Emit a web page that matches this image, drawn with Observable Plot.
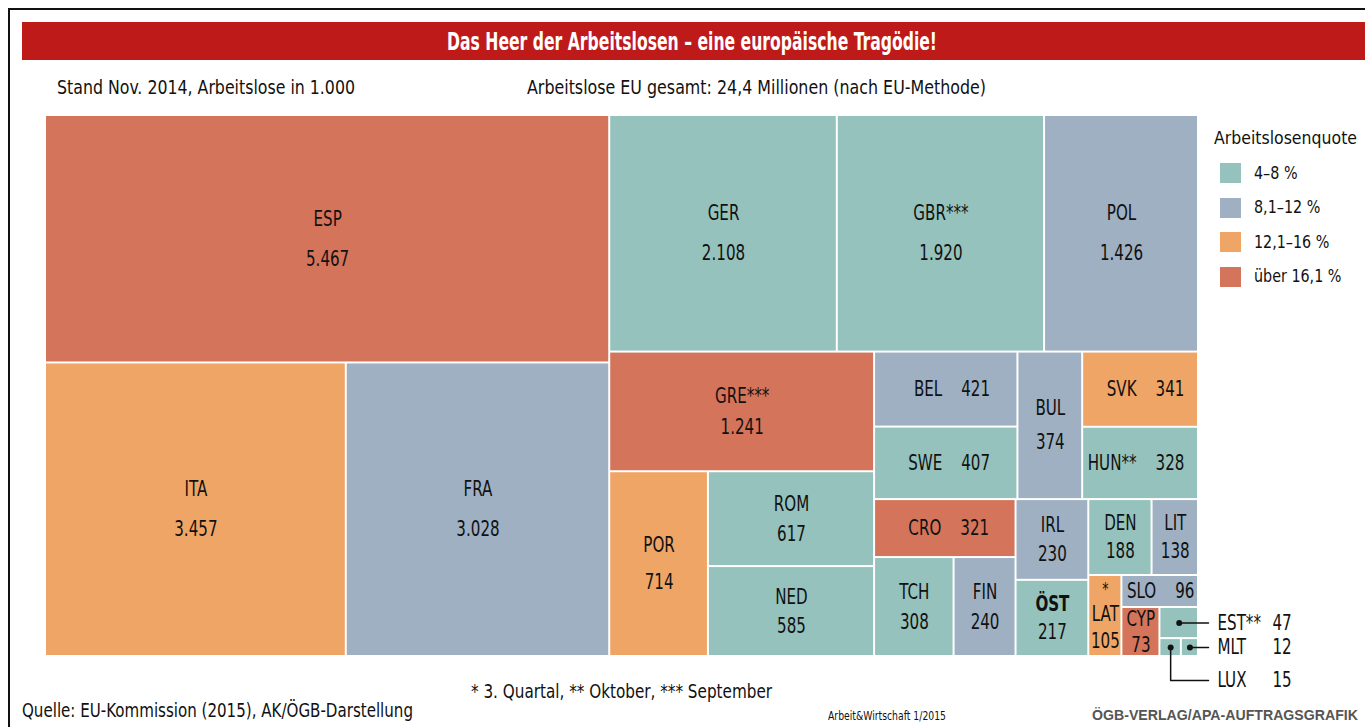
<!DOCTYPE html>
<html><head><meta charset="utf-8">
<script src="https://cdn.jsdelivr.net/npm/d3@7"></script>
<script src="https://cdn.jsdelivr.net/npm/@observablehq/plot@0.6"></script>
<style>
body{margin:0;background:#fff;}
#wrap{position:relative;width:1365px;height:727px;overflow:hidden;background:#fff;
  font-family:"Liberation Sans Narrow","DejaVu Sans Condensed","Roboto Condensed","Arial Narrow",sans-serif;font-stretch:condensed;color:#111;}
#frame{position:absolute;left:8px;top:8px;width:1400px;height:800px;border-top:2px solid #111;border-left:2px solid #111;}
#title{position:absolute;left:22px;top:22px;width:1343px;height:38px;background:#be1a1a;}
.t{position:absolute;white-space:nowrap;}
#chart{position:absolute;left:0;top:0;}
.sw{position:absolute;width:21px;height:20px;}
</style></head>
<body>
<div id="wrap"><div id="frame"></div><div id="title"></div><div id="chart"></div></div>
<script>
// ---- data ----
const countries = ["ESP","ITA","FRA","GER","GBR","POL","GRE","POR","ROM","NED","BEL","SWE","BUL","SVK","HUN","CRO","TCH","FIN","IRL","ÖST","DEN","LIT","LAT","SLO","CYP","EST","LUX","MLT"];
const footnotes = ["","","","","***","","***","","","","","","","","**","","","","","","","","*","","","**","",""];
const unemployed = [5467,3457,3028,2108,1920,1426,1241,714,617,585,421,407,374,341,328,321,308,240,230,217,188,138,105,96,73,47,15,12];
const rateClass = [3,2,1,0,0,1,3,2,0,0,1,0,1,2,0,3,0,1,1,0,0,1,2,1,3,0,0,0];
const classLabels = ["4–8 %","8,1–12 %","12,1–16 %","über 16,1 %"];
const classColors = ["#95c2bc","#9eb0c2","#efa565","#d4745a"];
const highlight = "ÖST";
// nesting of the tiles (alternating dice / slice)
const layoutGroups = [
  ["ESP", ["ITA","FRA"]],
  [["GER","GBR","POL"],
   [["GRE", ["POR", ["ROM","NED"]]],
    [[["BEL","SWE"], "BUL", ["SVK","HUN"]],
     [["CRO", ["TCH","FIN"]], ["IRL","ÖST"], [["DEN","LIT"], ["LAT", ["SLO", ["CYP", ["EST", ["LUX","MLT"]]]]]]]]]]
];

// ---- layout ----
const W = 1153, H = 541;
const idx = new Map(countries.map((c,i)=>[c,i]));
const root = d3.hierarchy(layoutGroups, d => Array.isArray(d) ? d : null)
  .sum(d => Array.isArray(d) ? 0 : unemployed[idx.get(d)]);
d3.treemap().tile(d3.treemapSliceDice).size([W,H])(root);
const fmt = d3.formatLocale({decimal:",",thousands:".",grouping:[3],currency:["",""]}).format(",d");
const cells = root.leaves().map(n => {
  const i = idx.get(n.data);
  const w = n.x1-n.x0, h = n.y1-n.y0;
  return {code:n.data, fn:footnotes[i], label:n.data+footnotes[i], value:unemployed[i], vtxt:fmt(unemployed[i]),
    cls:classLabels[rateClass[i]], x0:n.x0, x1:n.x1, y0:n.y0, y1:n.y1, cx:(n.x0+n.x1)/2, cy:(n.y0+n.y1)/2, w, h};
});
const outside = cells.filter(d => d.value < 50);
const inside = cells.filter(d => d.value >= 50);
const oneLine = inside.filter(d => d.value < 500 && d.w/d.h > 1.4);
const triple = inside.filter(d => d.fn && d.w < 45 && !oneLine.includes(d));
const twoLine = inside.filter(d => !oneLine.includes(d) && !triple.includes(d));
const gap = d => Math.min(40, 22 + 0.08*d.h);
const nameRows = twoLine.map(d => ({...d, ty:d.cy - gap(d)/2, t:d.label}));
const valueRows = twoLine.map(d => ({...d, ty:d.cy + gap(d)/2, t:d.vtxt}));
triple.forEach(d => { nameRows.push({...d, ty:d.cy-2, t:d.code}); valueRows.push({...d, ty:d.cy+25, t:d.vtxt}); });
const markerRows = triple.map(d => ({...d, ty:d.cy-26, t:d.fn}));

// outside labels
const sortedOut = outside.slice().sort((a,b)=> a.cy-b.cy || b.cx-a.cx);
let prev = -Infinity;
sortedOut.forEach(d => { d.ly = (d.cy - prev < 18) ? prev + 33 : d.cy; prev = d.ly; });
const leader = [];
sortedOut.forEach(d => {
  leader.push({code:d.code,x:d.cx,y:d.cy});
  if (d.ly !== d.cy) leader.push({code:d.code,x:d.cx,y:d.ly});
  leader.push({code:d.code,x:W+10,y:d.ly});
});

const FONT = '"Liberation Sans Narrow","DejaVu Sans Condensed","Roboto Condensed","Arial Narrow",sans-serif';
const textOpts = {fontSize:20.5, fill:"#111", fontFamily:FONT};
const plot = Plot.plot({
  width:1365, height:727,
  x:{domain:[0,W], range:[45,1198], axis:null},
  y:{domain:[0,H], range:[115,656], axis:null},
  color:{domain:classLabels, range:classColors},
  style:{fontFamily:FONT, background:"transparent"},
  marks:[
    Plot.rect(cells, {x1:"x0", x2:"x1", y1:"y0", y2:"y1", fill:"cls", inset:1}),
    Plot.text(nameRows.filter(d=>d.code!==highlight), {x:"cx", y:"ty", text:"t", ...textOpts}),
    Plot.text(nameRows.filter(d=>d.code===highlight), {x:"cx", y:"ty", text:"t", ...textOpts, fontWeight:"bold"}),
    Plot.text(valueRows, {x:"cx", y:"ty", text:"t", ...textOpts}),
    Plot.text(markerRows, {x:"cx", y:"ty", text:"t", ...textOpts, fontSize:17}),
    Plot.text(oneLine, {x:d=>d.cx-4, y:"cy", text:"label", textAnchor:"end", ...textOpts}),
    Plot.text(oneLine, {x:d=>d.cx+15, y:"cy", text:"vtxt", textAnchor:"start", ...textOpts}),
    Plot.line(leader, {x:"x", y:"y", z:"code", stroke:"#111", strokeWidth:1.5}),
    Plot.dot(outside, {x:"cx", y:"cy", r:3, fill:"#111"}),
    Plot.text(outside, {x:W+19, y:"ly", text:"label", textAnchor:"start", ...textOpts}),
    Plot.text(outside, {x:W+74, y:"ly", text:"vtxt", textAnchor:"start", ...textOpts})
  ]
});
document.getElementById("chart").appendChild(plot);
// narrow the label glyphs horizontally (condensed look)
const SX = 0.82;
plot.querySelectorAll("text").forEach(t => {
  const tr = t.getAttribute("transform");
  if (tr && tr.includes("translate")) t.setAttribute("transform", tr + ` scale(${SX},1)`);
  else if (t.hasAttribute("x")) {
    const x = t.getAttribute("x"), y = t.getAttribute("y") || 0;
    t.removeAttribute("x"); t.removeAttribute("y");
    t.setAttribute("transform", `translate(${x},${y}) scale(${SX},1)` + (tr ? " " + tr : ""));
  }
});

// ---- texts ----
const wrap = document.getElementById("wrap");
function place(txt, left, cy, size, width, extra={}) {
  const el = document.createElement("div");
  el.className = "t";
  el.textContent = txt;
  el.style.left = left+"px";
  el.style.top = (cy - size*0.6)+"px";
  el.style.fontSize = size+"px";
  el.style.lineHeight = (size*1.2)+"px";
  Object.assign(el.style, extra);
  wrap.appendChild(el);
  if (width) {
    const w = el.getBoundingClientRect().width;
    el.style.transformOrigin = "0 50%";
    el.style.transform = `scaleX(${width/w})`;
  }
  return el;
}
place("Das Heer der Arbeitslosen – eine europäische Tragödie!", 447, 42, 25, 490, {color:"#fff", fontWeight:"bold"});
place("Stand Nov. 2014, Arbeitslose in 1.000", 57, 87, 20, 298);
place("Arbeitslose EU gesamt: 24,4 Millionen (nach EU-Methode)", 527, 87, 20, 459);
place("Arbeitslosenquote", 1214, 138, 18, 143);
classLabels.forEach((c,i) => {
  const top = 163 + i*34.5;
  const s = document.createElement("div");
  s.className = "sw"; s.style.left = "1220px"; s.style.top = top+"px"; s.style.background = classColors[i];
  wrap.appendChild(s);
  place(c, 1254, top+10, 18.5, null, {transformOrigin:"0 50%", transform:"scaleX(0.86)"});
});
place("* 3. Quartal, ** Oktober, *** September", 471, 691, 20, 301);
place("Quelle: EU-Kommission (2015), AK/ÖGB-Darstellung", 22, 710, 20, 391);
place("Arbeit&Wirtschaft 1/2015", 828, 716, 12, 118);
place("ÖGB-VERLAG/APA-AUFTRAGSGRAFIK", 1092, 715, 15, 266, {fontWeight:"bold", color:"#555", fontFamily:"'Liberation Sans',sans-serif", fontStretch:"normal"});
</script>
</body></html>
